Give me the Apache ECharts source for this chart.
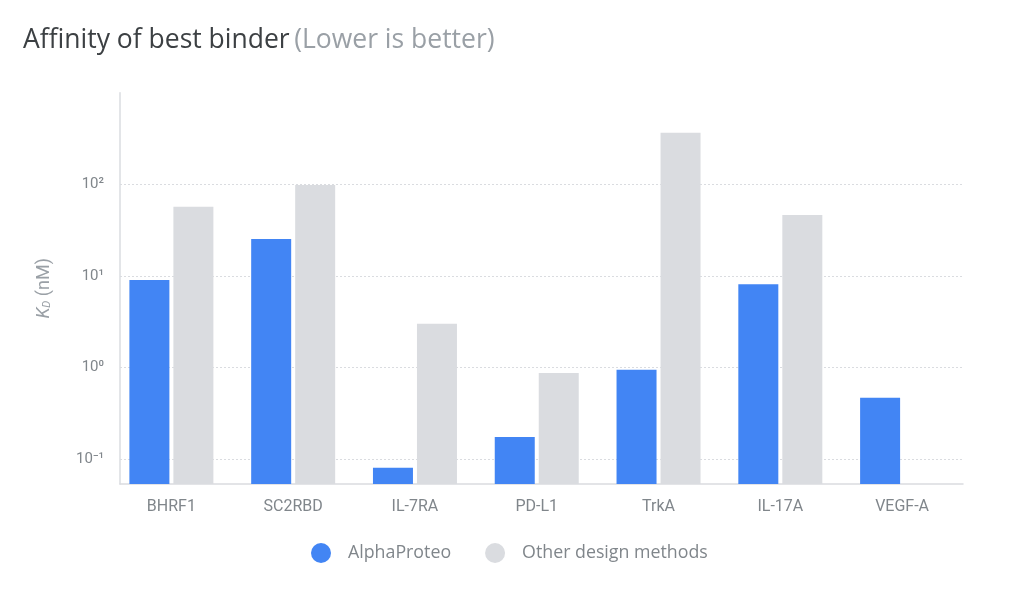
<!DOCTYPE html>
<html>
<head>
<meta charset="utf-8">
<script src="https://cdn.jsdelivr.net/npm/echarts@6/dist/echarts.min.js"></script>
<style>
html,body{margin:0;padding:0;background:#fff;}
#chart{width:1024px;height:592px;}
</style>
</head>
<body>
<div id="chart"></div>
<script>
const categories = ['BHRF1', 'SC2RBD', 'IL-7RA', 'PD-L1', 'TrkA', 'IL-17A', 'VEGF-A'];
const alphaProteo = [9.0, 25.3, 0.080, 0.174, 0.94, 8.1, 0.466];
const otherMethods = [56.9, 98, 3.0, 0.87, 366, 46.2, null];
const seriesNames = ['AlphaProteo', 'Other design methods'];
const yTickValues = [0.1, 1, 10, 100];
const yTickLabels = ['10\u207B\u00B9', '10\u2070', '10\u00B9', '10\u00B2'];
const yMin = 0.0533;
const yMax = 1000;

const FONT = 'Roboto, "Open Sans", sans-serif';
const TFONT = '"Open Sans", Roboto, sans-serif';
const BLUE = '#4285f4';
const GREY = '#dadce0';
const LABEL = '#80868b';

function tickLabel(v) {
  for (let i = 0; i < yTickValues.length; i++) {
    if (Math.abs(Math.log10(v) - Math.log10(yTickValues[i])) < 1e-6) return yTickLabels[i];
  }
  return '';
}

const chart = echarts.init(document.getElementById('chart'), null, {renderer: 'canvas'});
chart.setOption({
  backgroundColor: '#ffffff',
  animation: false,
  textStyle: {fontFamily: FONT},
  title: {
    left: 18,
    top: 22,
    text: '{a|Affinity of best binder} {b|(Lower is better)}',
    textStyle: {
      fontWeight: 'normal',
      rich: {
        a: {fontSize: 26.5, fontWeight: 'normal', color: '#3c4043', fontFamily: TFONT},
        b: {fontSize: 26.5, fontWeight: 'normal', color: '#9aa0a6', fontFamily: TFONT}
      }
    }
  },
  legend: {
    left: 306,
    top: 538,
    icon: 'circle',
    itemWidth: 20,
    itemHeight: 20,
    itemGap: 34,
    data: seriesNames,
    textStyle: {fontSize: 17.8, color: LABEL, fontFamily: TFONT, padding: [0, 0, 0, 12]}
  },
  grid: [
    {left: 110.5, right: 61, top: 92.7, bottom: 108},
    {left: 120, right: 61, top: 92.7, bottom: 108}
  ],
  xAxis: [
    {
      gridIndex: 0,
      type: 'category',
      data: categories,
      axisLine: {show: false},
      axisTick: {show: false},
      splitLine: {show: false},
      axisLabel: {color: LABEL, fontSize: 16, margin: 15, fontFamily: FONT}
    },
    {
      gridIndex: 1,
      type: 'value',
      min: 0,
      max: 1,
      axisLine: {show: true, onZero: false, lineStyle: {color: GREY, width: 1.5}},
      axisTick: {show: false},
      axisLabel: {show: false},
      splitLine: {show: false}
    }
  ],
  yAxis: [
    {
      gridIndex: 0,
      type: 'log',
      min: yMin,
      max: yMax,
      startValue: yMin,
      show: false,
      splitLine: {show: false}
    },
    {
      gridIndex: 1,
      type: 'log',
      min: yMin,
      max: yMax,
      axisLine: {show: true, onZero: false, lineStyle: {color: GREY, width: 1.5}},
      axisTick: {show: false},
      axisLabel: {color: LABEL, fontSize: 15, margin: 16, fontFamily: FONT, formatter: tickLabel},
      splitLine: {show: true, showMinLine: false, showMaxLine: false, lineStyle: {color: GREY, width: 1, type: [2, 2]}},
      name: '{k|K}{d|D}{n| (nM)}',
      nameLocation: 'middle',
      nameRotate: 90,
      nameGap: 67,
      nameTextStyle: {
        rich: {
          k: {fontSize: 18, fontStyle: 'italic', color: '#9aa0a6', fontFamily: FONT},
          d: {fontSize: 11, fontStyle: 'italic', color: '#9aa0a6', fontFamily: FONT, verticalAlign: 'bottom', padding: [7, 0, 0, 0]},
          n: {fontSize: 18, color: '#9aa0a6', fontFamily: FONT}
        }
      }
    }
  ],
  series: [
    {
      name: seriesNames[0],
      type: 'bar',
      xAxisIndex: 0,
      yAxisIndex: 0,
      data: alphaProteo,
      barWidth: 40,
      barGap: '10%',
      itemStyle: {color: BLUE}
    },
    {
      name: seriesNames[1],
      type: 'bar',
      xAxisIndex: 0,
      yAxisIndex: 0,
      data: otherMethods,
      barWidth: 40,
      barGap: '10%',
      itemStyle: {color: GREY}
    }
  ]
});
</script>
</body>
</html>
